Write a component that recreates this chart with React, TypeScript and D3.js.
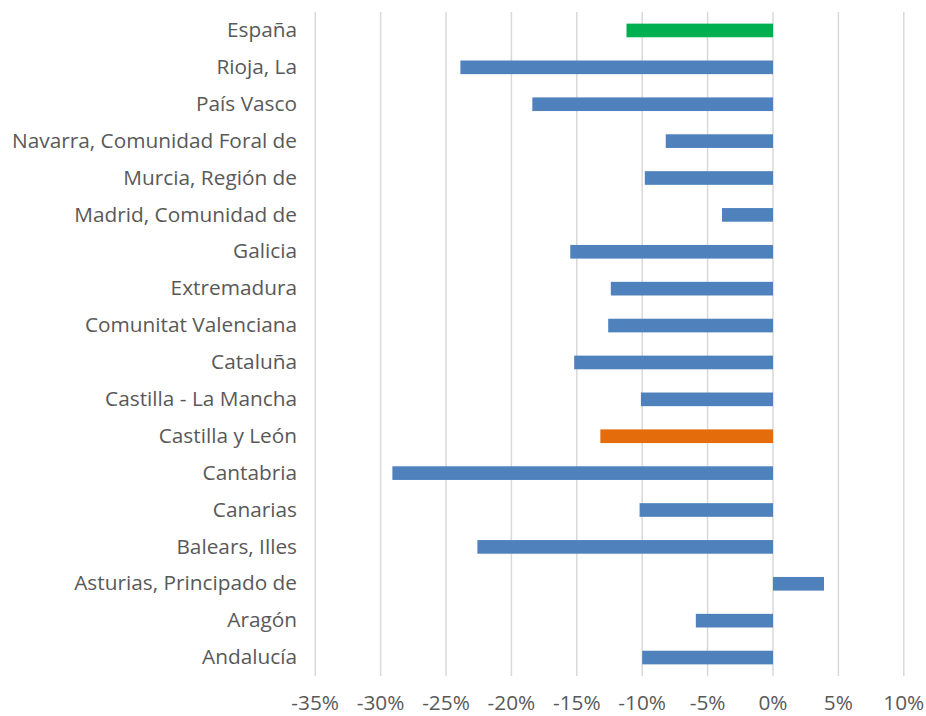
import { useEffect, useRef } from 'react';
import * as d3 from 'd3';

const regions = [
    'España',
    'Rioja, La',
    'País Vasco',
    'Navarra, Comunidad Foral de',
    'Murcia, Región de',
    'Madrid, Comunidad de',
    'Galicia',
    'Extremadura',
    'Comunitat Valenciana',
    'Cataluña',
    'Castilla - La Mancha',
    'Castilla y León',
    'Cantabria',
    'Canarias',
    'Balears, Illes',
    'Asturias, Principado de',
    'Aragón',
    'Andalucía',
];

// variación en %
const values = [
    -11.2, -23.9, -18.4, -8.2, -9.8, -3.9, -15.5, -12.4, -12.6,
    -15.2, -10.1, -13.2, -29.1, -10.2, -22.6, 3.9, -5.9, -10.0,
];

const ticks = [-35, -30, -25, -20, -15, -10, -5, 0, 5, 10];

const colorFor = (name: string) => {
    if (name === 'España') return '#00B050';
    if (name === 'Castilla y León') return '#E46C0A';
    return '#4F81BD';
};

const App = () => {
    const ref = useRef<SVGSVGElement>(null);

    useEffect(() => {
        const svg = d3.select(ref.current);
        svg.selectAll('*').remove();
        const font = '"Open Sans", sans-serif';
        const fontSize = 20.8;

        const x = d3.scaleLinear()
            .domain([-35, 10])
            .range([315.2, 903.8]);

        const y = d3.scaleBand()
            .domain(regions)
            .range([12, 676])
            .paddingInner(0.63)
            .paddingOuter(0.315);

        // gridlines
        svg.append('g')
            .selectAll('line').data(ticks).enter().append('line')
            .attr('x1', d => x(d)).attr('x2', d => x(d))
            .attr('y1', 12).attr('y2', 676)
            .attr('stroke', '#d9d9d9')
            .attr('stroke-width', 1.5);

        // bars
        const data = regions.map((r, i) => ({ region: r, value: values[i] }));
        svg.append('g')
            .selectAll('rect').data(data).enter().append('rect')
            .attr('x', d => x(Math.min(0, d.value)))
            .attr('y', d => y(d.region))
            .attr('width', d => Math.abs(x(d.value) - x(0)))
            .attr('height', y.bandwidth())
            .attr('fill', d => colorFor(d.region));

        // category labels
        svg.append('g')
            .selectAll('text').data(regions).enter().append('text')
            .attr('x', 297)
            .attr('y', d => y(d) + y.bandwidth() / 2)
            .attr('dy', '0.32em')
            .attr('text-anchor', 'end')
            .attr('font-family', font)
            .attr('font-size', fontSize)
            .attr('fill', '#595959')
            .text(d => d);

        // tick labels
        svg.append('g')
            .selectAll('text').data(ticks).enter().append('text')
            .attr('x', d => x(d))
            .attr('y', 710)
            .attr('text-anchor', 'middle')
            .attr('font-family', font)
            .attr('font-size', fontSize)
            .attr('fill', '#595959')
            .text(d => `${d}%`);
    }, []);

    return (
        <svg
            ref={ref}
            width={926}
            height={716}
            style={{ position: 'absolute', left: 0, top: 0, background: '#fff' }}
        />
    );
};

export default App;
